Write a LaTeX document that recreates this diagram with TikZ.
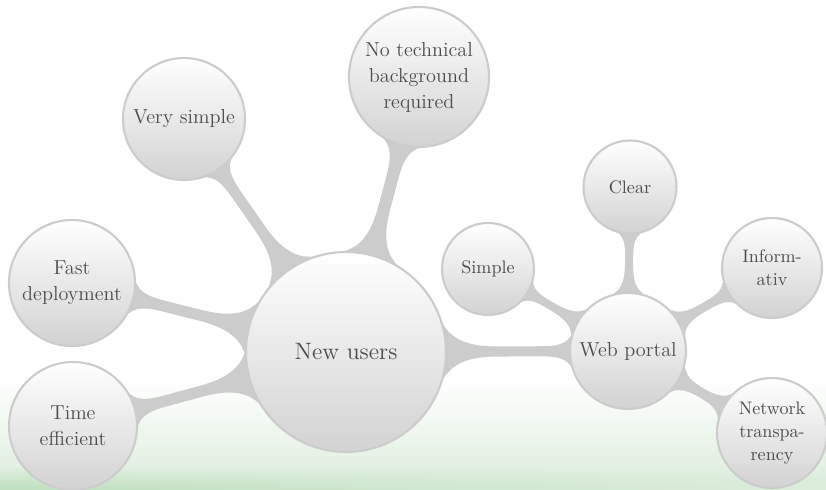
\documentclass[tikz,border=0pt]{standalone}
\usetikzlibrary{mindmap,backgrounds,fadings}
\definecolor{bandgreen}{RGB}{220,237,220}
\definecolor{streakgreen}{RGB}{192,224,192}
\tikzset{
	bubble/.style={concept, concept color=gray!40, draw=gray!40, line width=1.2pt,
		top color=white, bottom color=gray!35, text=black!70, text width={}, align=center, inner sep=1pt},
	root bubble/.style={bubble, minimum size=4cm, font=\fontsize{13.5}{16}\selectfont},
	big bubble/.style={bubble, font=\fontsize{11.5}{14.8}\selectfont},
	small bubble/.style={bubble, font=\fontsize{10.3}{13}\selectfont},
	bar/.style={circle connection bar switch color=from (gray!40) to (gray!40)}
}
\begin{document}
\begin{tikzpicture}[mindmap]
	\useasboundingbox (0,0) rectangle (16.52,9.78);

	\node[root bubble] (users) at (6.92,2.74) {New users};
	\node[big bubble, minimum size=2.44cm] (verysimple) at (3.68,7.40) {Very simple};
	\node[big bubble, minimum size=2.8cm] (notech) at (8.38,8.24) {No technical\\background\\required};
	\node[big bubble, minimum size=2.52cm] (fast) at (1.44,4.12) {Fast\\deployment};
	\node[big bubble, minimum size=2.56cm] (time) at (1.46,1.26) {Time\\efficient};
	\node[big bubble, minimum size=2.32cm] (portal) at (12.56,2.76) {Web portal};
	\node[small bubble, minimum size=1.84cm] (simple) at (9.76,4.40) {Simple};
	\node[small bubble, minimum size=1.86cm] (clear) at (12.6,6.04) {Clear};
	\node[small bubble, minimum size=2cm] (inform) at (15.44,4.42) {Inform-\\ativ};
	\node[small bubble, minimum size=2.2cm] (network) at (15.44,1.12) {Network\\transpa-\\rency};

	\begin{pgfonlayer}{background}
		\fill[top color=white, bottom color=bandgreen] (0,0) rectangle (16.52,2.2);
		\shade[left color=streakgreen, right color=bandgreen, path fading=north] (0,0) rectangle (16.52,0.45);

		\foreach \x in {verysimple,notech,fast,time,portal}
			\path[line width=5pt] (users) to[bar] (\x);
		\foreach \x in {simple,clear,inform,network}
			\path[line width=4pt] (portal) to[bar] (\x);
	\end{pgfonlayer}
\end{tikzpicture}
\end{document}
